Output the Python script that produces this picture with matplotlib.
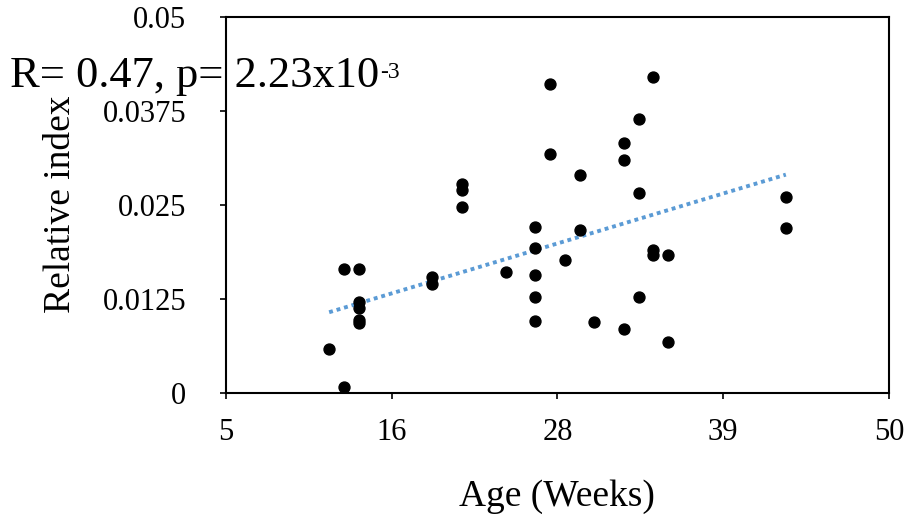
import numpy as np
import matplotlib
matplotlib.use("Agg")
import matplotlib.pyplot as plt

plt.rcParams['font.family'] = ['Liberation Serif', 'DejaVu Serif']

# data
age = [12, 13, 13, 14, 14, 14, 14, 14, 19, 19, 21, 21, 21, 24,
       26, 26, 26, 26, 26, 27, 27, 28, 29, 29, 30, 32, 32, 32,
       33, 33, 33, 34, 34, 34, 35, 35, 43, 43]
rel_index = [0.0058, 0.0007, 0.0164, 0.0164, 0.0120, 0.0112, 0.0097, 0.0093,
             0.0154, 0.0145, 0.0278, 0.0269, 0.0247, 0.0160,
             0.0220, 0.0192, 0.0156, 0.0127, 0.0096, 0.0411, 0.0317,
             0.0177, 0.0290, 0.0217, 0.0094, 0.0332, 0.0309, 0.0085,
             0.0364, 0.0266, 0.0127, 0.0420, 0.0190, 0.0183, 0.0183,
             0.0068, 0.0260, 0.0219]
# linear trendline as drawn in the picture (end points)
trend_age = [12, 43]
trend_val = [0.0107, 0.0290]

xtick_vals = np.linspace(5, 50, 5)
xtick_labels = ['5', '16', '28', '39', '50']
ytick_vals = [0, 0.0125, 0.025, 0.0375, 0.05]
ytick_labels = ['0', '0.0125', '0.025', '0.0375', '0.05']

W, H = 909, 518
fig = plt.figure(figsize=(W / 100, H / 100), dpi=100)
ax = fig.add_axes([226 / W, 1 - 392.7 / H, 663 / W, 376 / H])

ax.scatter(age, rel_index, s=62, color='black', zorder=3)
ax.plot(trend_age, trend_val, color='#5B9BD5', lw=2.8,
        linestyle=(0, (1, 1)), zorder=2)

ax.set_xlim(5, 50)
ax.set_ylim(0, 0.05)
ax.set_xticks(xtick_vals)
ax.set_xticklabels(xtick_labels)
ax.set_yticks(ytick_vals)
ax.set_yticklabels(ytick_labels)
ax.tick_params(direction='out', length=4.5, width=1.2, labelsize=22)
ax.tick_params(axis='x', pad=14)
ax.tick_params(axis='y', pad=24)
for sp in ax.spines.values():
    sp.set_linewidth(1.5)

fig.text(557 / W, 1 - 497 / H, 'Age (Weeks)', fontsize=27,
         ha='center', va='center')
fig.text(61 / W, 1 - 204 / H, 'Relative index', fontsize=27,
         ha='center', va='center', rotation=90)

main = fig.text(10 / W, 1 - 87 / H, 'R= 0.47, p= 2.23x10',
                fontsize=32, va='baseline', ha='left')
r = fig.canvas.get_renderer()
bb = main.get_window_extent(r)
fig.text(bb.x1 / W + 1 / W, 1 - 78 / H, '-3', fontsize=17,
         va='baseline', ha='left')

fig.savefig('out.png', dpi=100)
